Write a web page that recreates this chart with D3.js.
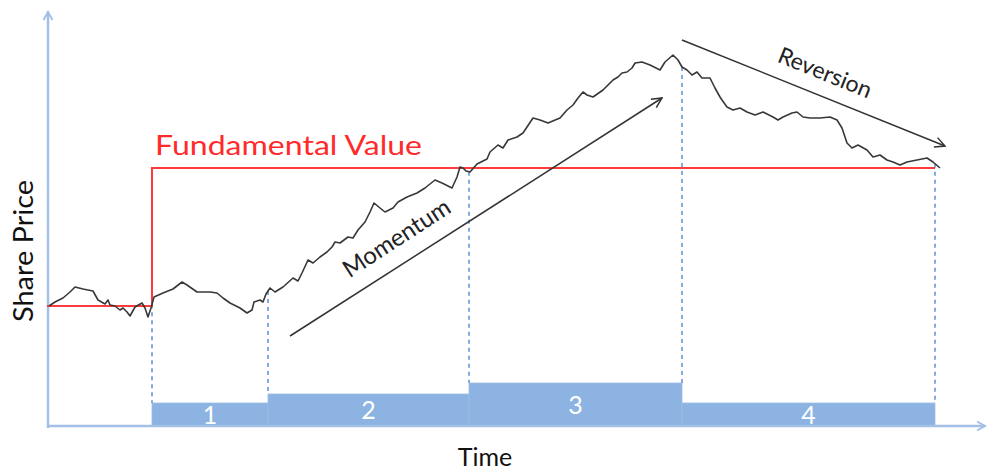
<!DOCTYPE html>
<html><head><meta charset="utf-8">
<script src="https://cdn.jsdelivr.net/npm/d3@7"></script>
<style>body{margin:0;background:#fff}svg{display:block}</style>
</head><body>
<svg id="c" width="988" height="473"></svg>
<script>
// ---- data ----
const priceTime = [2,8,16,23,28,36,46,51,58,61,63,68,73,76,80,83,88,95,98,101,104,107,116,126,135,140,150,163,170,176,183,193,200,205,207,213,216,219,223,228,236,246,251,255,261,266,273,280,285,288,293,301,306,311,318,323,327,333,338,346,351,360,370,378,388,395,405,410,413,416,419,423,430,440,443,451,456,461,470,476,486,493,501,513,520,526,531,536,540,546,556,566,571,575,580,585,588,595,603,613,618,626,631,635,640,645,650,655,663,668,673,675,680,686,693,700,708,716,726,731,736,745,750,756,763,773,783,790,795,800,805,811,820,826,833,840,846,853,860,870,880,886,893];
const priceValue = [120,124,128,134,139,137,135,126,122,126,121,120,116,118,114,110,119,123,118,109,118,129,133,137,144,141,134,134,133,128,123,118,113,116,124,126,124,132,138,134,139,148,145,153,166,163,169,174,179,184,183,189,188,196,204,214,223,218,214,218,224,229,233,238,246,243,238,249,259,258,255,254,262,267,274,281,278,286,289,293,308,306,303,308,316,321,328,334,331,329,336,346,349,353,354,358,363,364,361,356,364,371,366,359,356,351,354,348,348,338,329,326,319,316,318,314,311,314,309,306,309,313,314,309,308,308,309,306,298,283,278,281,276,269,271,266,264,261,264,266,268,264,258];
const fundamentalTime = [0,105,105,888];
const fundamentalValue = [120,120,258,258];
const phaseStart = [105,221,422,635];
const phaseEnd = [221,422,635,888];
const phaseHeight = [23,32,43,23];
const phaseLabels = ["1","2","3","4"];
const arrowNames = ["Momentum","Reversion"];
const arrowFrom = [[243,90],[635,386]];
const arrowTo = [[615,328],[898,280]];

// ---- scales ----
const x = d3.scaleLinear().domain([0, 939]).range([47, 986]);
const y = d3.scaleLinear().domain([0, 414]).range([426, 12]);
const svg = d3.select("#c");
const font = "Lato, 'Open Sans', sans-serif";
const axisCol = "#a3c0e6";

const defs = svg.append("defs");
defs.append("marker").attr("id","ah").attr("viewBox","0 0 12 12").attr("refX",11).attr("refY",6)
  .attr("markerWidth",12).attr("markerHeight",12).attr("markerUnits","userSpaceOnUse").attr("orient","auto")
  .append("path").attr("d","M1,1 L11,6 L1,11").attr("fill","none").attr("stroke","#333").attr("stroke-width",1.5);
defs.append("marker").attr("id","axh").attr("viewBox","0 0 12 12").attr("refX",10).attr("refY",6)
  .attr("markerWidth",12).attr("markerHeight",12).attr("markerUnits","userSpaceOnUse").attr("orient","auto")
  .append("path").attr("d","M2,1.5 L10,6 L2,10.5").attr("fill","none").attr("stroke",axisCol).attr("stroke-width",2);

// bars
const phases = phaseStart.map((s,i)=>({s, e:phaseEnd[i], h:phaseHeight[i], label:phaseLabels[i]}));
svg.selectAll("rect.bar").data(phases).join("rect").attr("class","bar")
  .attr("x", d=>x(d.s)).attr("width", d=>x(d.e)-x(d.s))
  .attr("y", d=>y(d.h)).attr("height", d=>y(0)-y(d.h))
  .attr("fill","#8db3e2").attr("stroke","#9cbde6").attr("stroke-width",0.8);
svg.selectAll("text.bl").data(phases).join("text").attr("class","bl")
  .attr("x", d=>(x(d.s)+x(d.e))/2).attr("y", d=>(y(d.h)+y(0))/2 + 9)
  .attr("text-anchor","middle").attr("fill","#fff").attr("font-family",font).attr("font-size",25)
  .text(d=>d.label);

// dashed boundaries
const priceAt = t => {
  const i = d3.bisectLeft(priceTime, t);
  if (i<=0) return priceValue[0];
  if (i>=priceTime.length) return priceValue[priceValue.length-1];
  const t0=priceTime[i-1], t1=priceTime[i];
  return priceValue[i-1] + (priceValue[i]-priceValue[i-1])*(t-t0)/(t1-t0);
};
const bounds = phaseStart.map((s,i)=>({t:s, h: i>0 ? Math.max(phaseHeight[i-1],phaseHeight[i]) : phaseHeight[i]}));
bounds.push({t: phaseEnd[phaseEnd.length-1], h: phaseHeight[phaseHeight.length-1]});
svg.selectAll("line.dash").data(bounds).join("line").attr("class","dash")
  .attr("x1", d=>x(d.t)).attr("x2", d=>x(d.t))
  .attr("y1", d=>y(priceAt(d.t))).attr("y2", d=>y(d.h))
  .attr("stroke","#5b8fd3").attr("stroke-width",1.5).attr("stroke-dasharray","4,4");

// axes
svg.append("line").attr("x1",x(0)+1).attr("x2",x(0)+1).attr("y1",y(0)+2).attr("y2",y(414))
  .attr("stroke",axisCol).attr("stroke-width",2.5).attr("marker-end","url(#axh)");
svg.append("line").attr("x1",x(0)).attr("x2",x(939)-1).attr("y1",y(0)).attr("y2",y(0))
  .attr("stroke",axisCol).attr("stroke-width",2.5).attr("marker-end","url(#axh)");

// fundamental value
svg.append("path").datum(fundamentalTime.map((t,i)=>[t,fundamentalValue[i]]))
  .attr("d", d3.line().x(d=>x(d[0])).y(d=>y(d[1])))
  .attr("fill","none").attr("stroke","#ff3b3b").attr("stroke-width",2);

// price line
svg.append("path").datum(priceTime.map((t,i)=>[t,priceValue[i]]))
  .attr("d", d3.line().x(d=>x(d[0])).y(d=>y(d[1])))
  .attr("fill","none").attr("stroke","#383838").attr("stroke-width",1.6).attr("stroke-linejoin","round");

// arrows
arrowNames.forEach((n,i)=>{
  svg.append("line").attr("x1",x(arrowFrom[i][0])).attr("y1",y(arrowFrom[i][1]))
    .attr("x2",x(arrowTo[i][0])).attr("y2",y(arrowTo[i][1]))
    .attr("stroke","#333").attr("stroke-width",1.5).attr("marker-end","url(#ah)");
});
// arrow labels
svg.append("text").attr("transform","translate(401,245) rotate(-33)")
  .attr("text-anchor","middle").attr("font-family",font).attr("font-size",24).attr("fill","#222")
  .text(arrowNames[0]);
svg.append("text").attr("transform","translate(822,80) rotate(22)")
  .attr("text-anchor","middle").attr("font-family",font).attr("font-size",23).attr("fill","#222")
  .text(arrowNames[1]);

// titles
svg.append("text").attr("x",155).attr("y",155).attr("font-family",font).attr("font-size",26)
  .attr("fill","#ff2a2a").attr("textLength",267).attr("lengthAdjust","spacingAndGlyphs").text("Fundamental Value");
svg.append("text").attr("transform","translate(33,251) rotate(-90)").attr("text-anchor","middle")
  .attr("font-family",font).attr("font-size",26).attr("fill","#111")
  .attr("textLength",142).attr("lengthAdjust","spacingAndGlyphs").text("Share Price");
svg.append("text").attr("x",485).attr("y",466).attr("text-anchor","middle")
  .attr("font-family",font).attr("font-size",25).attr("fill","#111").text("Time");
</script>
</body></html>
